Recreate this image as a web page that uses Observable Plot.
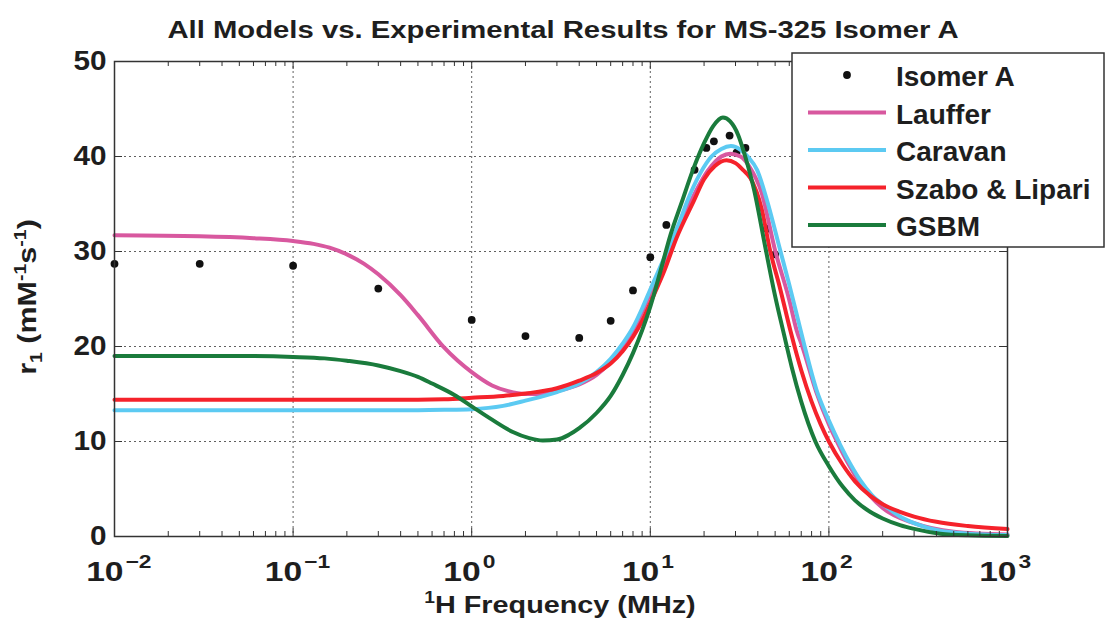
<!DOCTYPE html>
<html>
<head>
<meta charset="utf-8">
<script src="https://cdn.jsdelivr.net/npm/d3@7"></script>
<script src="https://cdn.jsdelivr.net/npm/@observablehq/plot@0.6"></script>
<style>
  html, body { margin: 0; padding: 0; background: #ffffff; }
  #chart svg { display: block; }
</style>
</head>
<body>
<div id="chart"></div>
<script>
// ---- Data ----
const title = "All Models vs. Experimental Results for MS-325 Isomer A";
const xLabelMain = "H Frequency (MHz)";
const yTicks = [0, 10, 20, 30, 40, 50];
const xExponents = [-2, -1, 0, 1, 2, 3];

// Experimental points (Isomer A)
const expFreq = [0.01, 0.03, 0.1, 0.3, 1, 2, 4, 6, 8, 10, 12.3, 17.7, 20.6, 22.7, 27.8, 30.4, 34.1, 45, 50];
const expR1   = [28.7, 28.7, 28.5, 26.1, 22.8, 21.1, 20.9, 22.7, 25.9, 29.4, 32.8, 38.6, 40.9, 41.6, 42.2, 40.4, 40.9, 32.4, 29.7];

// Model curves (frequency in MHz, r1 in mM^-1 s^-1)
const laufferFreq = [0.01, 0.03, 0.06, 0.1, 0.13, 0.16, 0.2, 0.25, 0.3, 0.4, 0.5, 0.7, 1, 1.3, 1.6, 2, 2.5, 3, 4, 5, 6, 8, 10, 13, 17, 21, 25, 28, 32, 36, 42, 50, 60, 66, 71, 85, 100, 111, 130, 150, 200, 300, 500, 1000];
const laufferR1   = [31.7, 31.6, 31.4, 31.1, 30.8, 30.4, 29.7, 28.7, 27.6, 25.4, 23.3, 19.9, 17.3, 15.9, 15.3, 15.0, 15.0, 15.3, 16.0, 17.0, 18.4, 21.6, 25.6, 30.4, 35.4, 38.5, 40.0, 40.3, 40.0, 38.9, 36.2, 30.1, 24.9, 21.7, 20.0, 15.2, 11.8, 10.0, 7.5, 5.6, 3.0, 1.4, 0.5, 0.2];

const caravanFreq = [0.01, 0.1, 0.5, 0.7, 1, 1.5, 2, 3, 4, 5, 6, 7, 8, 9, 10, 12, 14.5, 16.1, 19, 22, 25, 28.3, 32, 35.5, 39.6, 45, 53.6, 60, 66, 72.5, 85, 100, 116, 133, 150, 175, 212, 250, 300, 420, 600, 1000];
const caravanR1   = [13.3, 13.3, 13.3, 13.33, 13.4, 13.75, 14.3, 15.2, 16.1, 17.3, 18.7, 20.3, 22.0, 24.0, 26.0, 29.4, 33.0, 35.3, 38.2, 40.0, 40.8, 41.1, 40.7, 39.9, 38.6, 35.4, 30.0, 26.5, 23.4, 20.3, 15.5, 12.2, 9.6, 7.5, 5.9, 4.3, 3.05, 2.1, 1.4, 0.6, 0.3, 0.15];

const szaboFreq = [0.01, 0.1, 0.5, 0.7, 1, 1.5, 2, 3, 4, 5, 6, 7, 8, 9, 10, 12, 14, 17.5, 20, 23, 26.7, 30, 33, 36.4, 42, 47, 53, 61, 70, 80, 90, 100, 120, 140, 170, 200, 250, 300, 400, 600, 1000];
const szaboR1   = [14.4, 14.4, 14.4, 14.45, 14.6, 14.8, 15.05, 15.6, 16.4, 17.2, 18.2, 19.5, 21.0, 22.7, 24.6, 28.0, 31.4, 35.3, 37.6, 39.0, 39.6, 39.3, 38.6, 37.7, 34.5, 30.0, 26.3, 21.6, 17.5, 14.2, 11.8, 10.0, 7.5, 5.8, 4.3, 3.4, 2.6, 2.1, 1.55, 1.1, 0.78];

const gsbmFreq = [0.01, 0.05, 0.1, 0.15, 0.2, 0.3, 0.4, 0.5, 0.6, 0.8, 1, 1.3, 1.7, 2.1, 2.5, 3, 3.5, 4, 5, 6, 7, 8, 9, 10, 11.5, 13, 15, 17.5, 20, 22.5, 25.5, 28, 31, 34, 38, 44, 50, 56, 62, 70, 84, 100, 120, 140, 170, 200, 250, 300, 420, 600, 1000];
const gsbmR1   = [19.0, 19.0, 18.9, 18.75, 18.5, 18.0, 17.4, 16.8, 16.1, 14.9, 13.7, 12.3, 11.0, 10.35, 10.1, 10.2, 10.7, 11.4, 13.0, 14.8, 17.0, 19.3, 21.7, 24.2, 28.2, 31.8, 35.2, 38.8, 41.4, 43.2, 44.1, 43.7, 42.3, 40.0, 36.6, 30.5, 25.3, 21.3, 17.8, 14.2, 10.0, 7.4, 5.2, 3.8, 2.6, 1.9, 1.2, 0.8, 0.3, 0.12, 0.05];

const seriesNames  = ["Lauffer", "Caravan", "Szabo & Lipari", "GSBM"];
const seriesFreq   = [laufferFreq, caravanFreq, szaboFreq, gsbmFreq];
const seriesR1     = [laufferR1, caravanR1, szaboR1, gsbmR1];
const seriesColors = ["#d8589f", "#5ccaf2", "#f5222b", "#1a7b3c"];
const pointsName = "Isomer A";

// ---- Build tables ----
const points = expFreq.map((f, i) => ({f, r: expR1[i]}));
const curves = seriesNames.map((name, s) => seriesFreq[s].map((f, i) => ({f, r: seriesR1[s][i], name})));
const decades = xExponents.map(e => Math.pow(10, e));
const minors = [];
for (let e = -2; e < 3; e++) for (let k = 2; k <= 9; k++) minors.push(k * Math.pow(10, e));

const W = 1106, H = 629;
const mL = 114, mR = 99, mT = 61, mB = 93;
const fw = W - mL - mR, fh = H - mT - mB;
const FONT = "'Liberation Sans', Arial, Helvetica, sans-serif";
const ink = "#1e1e1e";
const SX = 1.2; // horizontal stretch of the reference lettering

const plot = Plot.plot({
  width: W, height: H,
  marginLeft: mL, marginRight: mR, marginTop: mT, marginBottom: mB,
  style: {background: "#ffffff", fontFamily: FONT, color: ink},
  x: {type: "log", domain: [0.01, 1000], axis: null},
  y: {domain: [0, 50], axis: null},
  marks: [
    Plot.gridX(decades, {stroke: "#444", strokeOpacity: 0.85, strokeDasharray: "2,3", strokeWidth: 1}),
    Plot.gridY(yTicks, {stroke: "#444", strokeOpacity: 0.85, strokeDasharray: "2,3", strokeWidth: 1}),
    Plot.dot(points, {x: "f", y: "r", r: 3.9, fill: "#111", stroke: null}),
    ...curves.map((c, s) => Plot.line(c, {x: "f", y: "r", stroke: seriesColors[s], strokeWidth: 4, curve: "monotone-x", strokeLinecap: "round"})),
    Plot.tickX(minors, {x: d => d, insetTop: fh - 5, stroke: "#333", strokeWidth: 1}),
    Plot.tickX(minors, {x: d => d, insetBottom: fh - 5, stroke: "#333", strokeWidth: 1}),
    Plot.tickX(decades, {x: d => d, insetTop: fh - 8, stroke: "#333", strokeWidth: 1}),
    Plot.tickX(decades, {x: d => d, insetBottom: fh - 8, stroke: "#333", strokeWidth: 1}),
    Plot.tickY(yTicks, {y: d => d, insetRight: fw - 8, stroke: "#333", strokeWidth: 1}),
    Plot.tickY(yTicks, {y: d => d, insetLeft: fw - 8, stroke: "#333", strokeWidth: 1}),
    Plot.frame({stroke: "#333", strokeWidth: 1.5}),
    Plot.axisY(yTicks, {label: null, tickSize: 0, tickPadding: 8, fontSize: 27, fontWeight: "bold", fill: ink, className: "ytl"}),
    Plot.text(decades, {x: d => d, text: () => "10", frameAnchor: "bottom", lineAnchor: "bottom", textAnchor: "end", dx: 9, dy: 44, fontSize: 28, fontWeight: "bold", fill: ink, className: "xtl"}),
    Plot.text(xExponents, {x: e => Math.pow(10, e), text: e => e < 0 ? "\u2212" + Math.abs(e) : String(e), frameAnchor: "bottom", lineAnchor: "bottom", textAnchor: "start", dx: 11, dy: 31, fontSize: 19, fontWeight: "bold", fill: ink, className: "xtl"})
  ]
});

document.getElementById("chart").appendChild(plot);
const svg = d3.select(plot);

// stretch tick labels horizontally around their anchor
function stretch(el, s) {
  const t = el.getAttribute("transform");
  if (t) el.setAttribute("transform", t + ` scale(${s},1)`);
  else {
    const x = +el.getAttribute("x") || 0;
    el.setAttribute("transform", `translate(${x},0) scale(${s},1) translate(${-x},0)`);
  }
}
plot.querySelectorAll(".xtl text").forEach(el => stretch(el, SX));
plot.querySelectorAll(".ytl text").forEach(el => stretch(el, 1.1));

// Title
svg.append("text")
  .attr("transform", `translate(563,38) scale(${SX + 0.02},1)`)
  .attr("text-anchor", "middle")
  .attr("font-family", FONT).attr("font-weight", "bold").attr("font-size", 24)
  .attr("fill", ink)
  .text(title);

// X label with superscript 1
const xl = svg.append("text")
  .attr("transform", `translate(560,613) scale(${SX},1)`)
  .attr("text-anchor", "middle")
  .attr("font-family", FONT).attr("font-weight", "bold").attr("font-size", 24)
  .attr("fill", ink);
xl.append("tspan").attr("font-size", 16).attr("dy", -10).text("1");
xl.append("tspan").attr("dy", 10).text(xLabelMain);

// Y label: r1 (mM-1 s-1)
const yl = svg.append("text")
  .attr("transform", `translate(36,297) rotate(-90) scale(1.22,1)`)
  .attr("text-anchor", "middle")
  .attr("font-family", FONT).attr("font-weight", "bold").attr("font-size", 25)
  .attr("fill", ink);
yl.append("tspan").text("r");
yl.append("tspan").attr("font-size", 16).attr("dy", 6).text("1");
yl.append("tspan").attr("dy", -6).text(" (mM");
yl.append("tspan").attr("font-size", 16).attr("dy", -10).text("-1");
yl.append("tspan").attr("dy", 10).text("s");
yl.append("tspan").attr("font-size", 16).attr("dy", -10).text("-1");
yl.append("tspan").attr("dy", 10).text(")");

// Legend
const lg = svg.append("g");
lg.append("rect").attr("x", 792).attr("y", 53).attr("width", 312).attr("height", 194)
  .attr("fill", "#ffffff").attr("stroke", "#333").attr("stroke-width", 1.5);
const legendItems = [pointsName, ...seriesNames];
legendItems.forEach((name, i) => {
  const yb = 86 + i * 37.5;
  if (i === 0) {
    lg.append("circle").attr("cx", 847).attr("cy", yb - 11).attr("r", 3.9).attr("fill", "#111");
  } else {
    lg.append("line").attr("x1", 808).attr("x2", 886).attr("y1", yb - 11).attr("y2", yb - 11)
      .attr("stroke", seriesColors[i - 1]).attr("stroke-width", 4);
  }
  lg.append("text").attr("x", 896).attr("y", yb)
    .attr("text-anchor", "start")
    .attr("font-family", FONT).attr("font-weight", "bold").attr("font-size", 28)
    .attr("fill", ink).text(name);
});
</script>
</body>
</html>
